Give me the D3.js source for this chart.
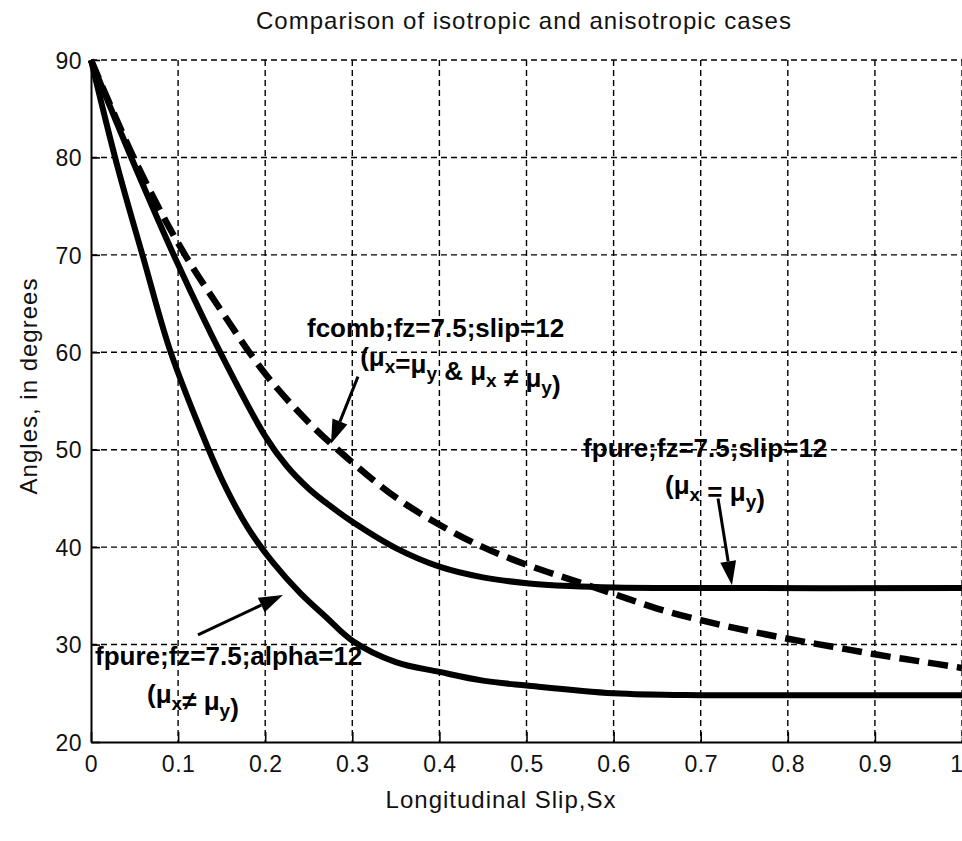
<!DOCTYPE html>
<html>
<head>
<meta charset="utf-8">
<script src="https://cdn.jsdelivr.net/npm/d3@7"></script>
<style>
  html, body { margin: 0; padding: 0; background: #fff; }
  svg { display: block; }
  .tick text { font-family: "Liberation Sans", Arial, sans-serif; font-size: 23px; letter-spacing: 0.5px; fill: #111; }
  .ann { font-family: "Liberation Sans", Arial, sans-serif; font-weight: bold; font-size: 26px; fill: #000; }
</style>
</head>
<body>
<svg id="chart" width="962" height="841"></svg>
<script>
// Longitudinal slip (Sx) and angle (degrees) for each case
// fpure; fz=7.5; alpha=12 (mu_x != mu_y)
const sxAniso = [0, 0.03, 0.06, 0.09, 0.12, 0.15, 0.18, 0.21, 0.24, 0.27, 0.3, 0.35, 0.4, 0.45, 0.5, 0.6, 0.7, 0.8, 1.0];
const angAniso = [90, 79.2, 69.7, 60.4, 53.3, 47.0, 42.0, 38.3, 35.3, 32.8, 30.4, 28.2, 27.2, 26.3, 25.8, 25.0, 24.8, 24.8, 24.8];

// fpure; fz=7.5; slip=12 (mu_x = mu_y)
const sxIso = [0, 0.05, 0.1, 0.15, 0.2, 0.225, 0.25, 0.275, 0.3, 0.35, 0.4, 0.45, 0.5, 0.55, 0.6, 0.7, 1.0];
const angIso = [90, 79.2, 69.0, 59.7, 51.4, 48.3, 46.0, 44.2, 42.6, 39.9, 38.0, 36.9, 36.3, 36.0, 35.85, 35.8, 35.8];

// fcomb; fz=7.5; slip=12
const sxComb = [0, 0.05, 0.1, 0.15, 0.2, 0.25, 0.3, 0.35, 0.4, 0.45, 0.5, 0.55, 0.6, 0.65, 0.7, 0.75, 0.8, 0.85, 0.9, 0.95, 1.0];
const angComb = [90, 79.8, 71.2, 64.2, 57.8, 52.8, 48.7, 45.1, 42.3, 40.0, 38.2, 36.7, 35.2, 33.7, 32.5, 31.5, 30.6, 29.8, 29.0, 28.3, 27.6];

// Tick values
const xTicks = [0, 0.1, 0.2, 0.3, 0.4, 0.5, 0.6, 0.7, 0.8, 0.9, 1];
const xTickLabels = ["0", "0.1", "0.2", "0.3", "0.4", "0.5", "0.6", "0.7", "0.8", "0.9", "1"];
const yTicks = [20, 30, 40, 50, 60, 70, 80, 90];

// Text
const titleText = "Comparison of isotropic and anisotropic cases";
const xLabelText = "Longitudinal Slip,Sx";
const yLabelText = "Angles, in degrees";

const svg = d3.select("#chart");
const W = 962, H = 841;
const plotLeft = 91, plotRight = 962, plotTop = 60, plotBottom = 742;

const x = d3.scaleLinear().domain([0, 1]).range([plotLeft, plotRight]);
const y = d3.scaleLinear().domain([20, 90]).range([plotBottom, plotTop]);

svg.append("rect").attr("width", W).attr("height", H).attr("fill", "#fff");

// Dashed grid
const grid = svg.append("g").attr("stroke", "#000").attr("stroke-width", 1.4).attr("stroke-dasharray", "6,4");
grid.selectAll("line.v").data(xTicks.slice(1)).join("line")
  .attr("x1", d => x(d)).attr("x2", d => x(d)).attr("y1", plotTop).attr("y2", plotBottom);
grid.selectAll("line.h").data(yTicks.slice(1)).join("line")
  .attr("x1", plotLeft).attr("x2", plotRight).attr("y1", d => y(d)).attr("y2", d => y(d));

// Axes with inward ticks
const xAxis = d3.axisBottom(x).tickValues(xTicks).tickFormat((d, i) => xTickLabels[i])
  .tickSizeInner(-10).tickSizeOuter(0).tickPadding(14);
const yAxis = d3.axisLeft(y).tickValues(yTicks).tickFormat(d3.format("d"))
  .tickSizeInner(-9).tickSizeOuter(0).tickPadding(9);

const gx = svg.append("g").attr("transform", `translate(0,${plotBottom})`).call(xAxis);
const gy = svg.append("g").attr("transform", `translate(${plotLeft},0)`).call(yAxis);
[gx, gy].forEach(g => {
  g.select(".domain").attr("stroke", "#000").attr("stroke-width", 2);
  g.selectAll(".tick line").attr("stroke", "#000").attr("stroke-width", 1.6);
});
gy.selectAll(".tick text").attr("dy", "0.36em");
// keep the last x label inside the page edge
gx.selectAll(".tick").filter(d => d === 1).select("text").attr("text-anchor", "end").attr("x", 1);

// Curves
const line = d3.line().x(d => x(d[0])).y(d => y(d[1])).curve(d3.curveCatmullRom.alpha(0.5));
const zip = (a, b) => a.map((v, i) => [v, b[i]]);

svg.append("path").datum(zip(sxAniso, angAniso)).attr("d", line)
  .attr("fill", "none").attr("stroke", "#000").attr("stroke-width", 6).attr("stroke-linejoin", "round");
svg.append("path").datum(zip(sxIso, angIso)).attr("d", line)
  .attr("fill", "none").attr("stroke", "#000").attr("stroke-width", 6).attr("stroke-linejoin", "round");
svg.append("path").datum(zip(sxComb, angComb)).attr("d", line)
  .attr("fill", "none").attr("stroke", "#000").attr("stroke-width", 6.5).attr("stroke-dasharray", "20,9");

// Annotation arrows (tail -> tip, in data units)
const arrows = [
  { from: [0.3065, 57.5], to: [0.2755, 50.6] },
  { from: [0.7199, 45.0], to: [0.7359, 36.1] },
  { from: [0.1228, 31.0], to: [0.2204, 35.1] }
];
arrows.forEach(a => {
  const x0 = x(a.from[0]), y0 = y(a.from[1]), x1 = x(a.to[0]), y1 = y(a.to[1]);
  const ang = Math.atan2(y1 - y0, x1 - x0);
  const len = 24, half = 8;
  const bx = x1 - len * Math.cos(ang), by = y1 - len * Math.sin(ang);
  svg.append("line").attr("x1", x0).attr("y1", y0).attr("x2", bx).attr("y2", by)
    .attr("stroke", "#000").attr("stroke-width", 3);
  const p = [
    [x1, y1],
    [bx + half * Math.sin(ang), by - half * Math.cos(ang)],
    [bx - half * Math.sin(ang), by + half * Math.cos(ang)]
  ];
  svg.append("path").attr("d", "M" + p.map(q => q.join(",")).join("L") + "Z").attr("fill", "#000");
});

// Annotation labels
function label(at, parts) {
  const t = svg.append("text").attr("class", "ann").attr("x", x(at[0])).attr("y", y(at[1]));
  parts.forEach(pt => {
    if (typeof pt === "string") {
      t.append("tspan").text(pt);
    } else {
      t.append("tspan").attr("dy", 7).attr("font-size", 19).text(pt.sub);
      t.append("tspan").attr("dy", -7).text("");
    }
  });
}
label([0.248, 61.6], ["fcomb;fz=7.5;slip=12"]);
label([0.309, 58.6], ["(\u03bc", { sub: "x" }, "=\u03bc", { sub: "y" }, " & \u03bc", { sub: "x" }, " \u2260 \u03bc", { sub: "y" }, ")"]);
label([0.565, 49.25], ["fpure;fz=7.5;slip=12"]);
label([0.659, 45.45], ["(\u03bc", { sub: "x" }, " = \u03bc", { sub: "y" }, ")"]);
label([0.0046, 27.9], ["fpure;fz=7.5;alpha=12"]);
label([0.0643, 24.0], ["(\u03bc", { sub: "x" }, "\u2260  \u03bc", { sub: "y" }, ")"]);

// Title and axis labels
const textStyle = s => s.attr("font-family", "Liberation Sans, Arial, sans-serif").attr("font-size", 24)
  .attr("letter-spacing", "1px").attr("fill", "#111");
svg.append("text").attr("x", 524).attr("y", 29).attr("text-anchor", "middle").text(titleText).call(textStyle);
svg.append("text").attr("x", 501).attr("y", 808).attr("text-anchor", "middle").text(xLabelText).call(textStyle);
svg.append("text").attr("transform", "translate(37,386) rotate(-90)").attr("text-anchor", "middle").text(yLabelText).call(textStyle);
</script>
</body>
</html>
